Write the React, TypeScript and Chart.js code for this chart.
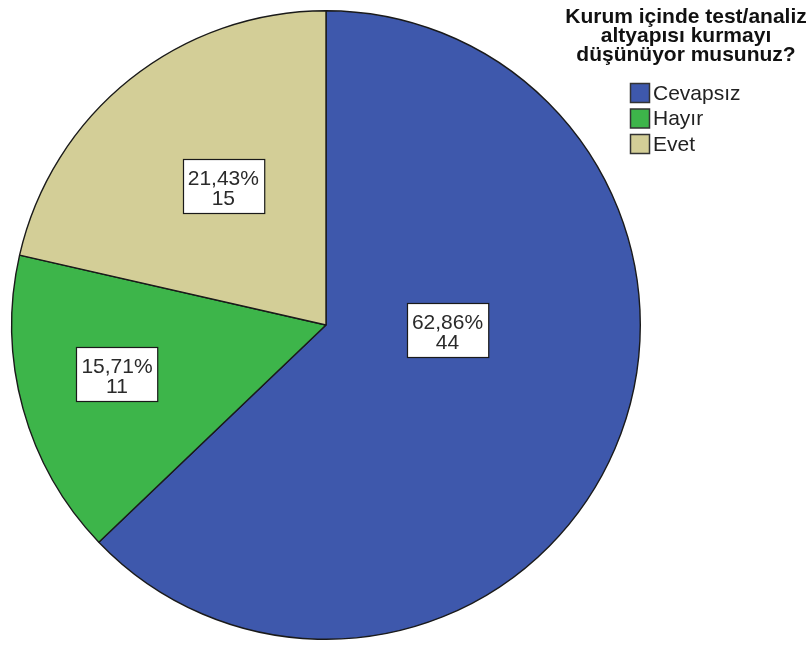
import React, { useEffect, useRef } from "react";
import { Chart, registerables } from "chart.js";

Chart.register(...registerables);

const categories = ["Cevapsız", "Hayır", "Evet"];
const counts = [44, 11, 15];
const colors = ["#3e58ac", "#3db54a", "#d3ce97"];
const titleLines = ["Kurum içinde test/analiz", "altyapısı kurmayı", "düşünüyor musunuz?"];
// label anchor: [radius fraction, angle in degrees clockwise from top]
const labelAnchors: [number, number][] = [
  [0.387, 92.3],
  [0.683, 256.8],
  [0.549, 323.5],
];

const FONT = "'Liberation Sans', Arial, sans-serif";

const overlayPlugin = {
  id: "overlay",
  afterDatasetsDraw(chart: any) {
    const ctx = chart.ctx as CanvasRenderingContext2D;
    const meta = chart.getDatasetMeta(0);
    const data = chart.data.datasets[0].data as number[];
    const total = data.reduce((a, b) => a + b, 0);
    ctx.save();
    meta.data.forEach((arc: any, i: number) => {
      const [frac, deg] = labelAnchors[i];
      const a = (deg * Math.PI) / 180;
      const cx = arc.x + Math.sin(a) * arc.outerRadius * frac;
      const cy = arc.y - Math.cos(a) * arc.outerRadius * frac;
      const pct = ((data[i] / total) * 100).toFixed(2).replace(".", ",") + "%";
      const cnt = String(data[i]);
      ctx.font = `21px ${FONT}`;
      const w = Math.max(ctx.measureText(pct).width, ctx.measureText(cnt).width) + 10;
      const h = 54;
      const bx = Math.round(cx - w / 2) + 0.5;
      const by = Math.round(cy - h / 2) + 0.5;
      ctx.fillStyle = "#ffffff";
      ctx.fillRect(bx, by, w, h);
      ctx.strokeStyle = "#1a1a1a";
      ctx.lineWidth = 1.2;
      ctx.strokeRect(bx, by, w, h);
      ctx.fillStyle = "#2a2a2a";
      ctx.textAlign = "center";
      ctx.textBaseline = "alphabetic";
      ctx.fillText(pct, cx, cy - 1);
      ctx.fillText(cnt, cx, cy + 19);
    });

    // legend title
    ctx.fillStyle = "#111111";
    ctx.textAlign = "center";
    ctx.font = `bold 21px ${FONT}`;
    titleLines.forEach((t, i) => {
      ctx.fillText(t, 686, 23 + i * 19);
    });
    // legend items
    ctx.textAlign = "left";
    ctx.textBaseline = "middle";
    ctx.font = `21px ${FONT}`;
    chart.data.labels.forEach((lab: string, i: number) => {
      const y = 83 + i * 25.5;
      ctx.fillStyle = colors[i];
      ctx.fillRect(630.5, y + 0.5, 19, 19);
      ctx.strokeStyle = "#333333";
      ctx.lineWidth = 1.5;
      ctx.strokeRect(630.5, y + 0.5, 19, 19);
      ctx.fillStyle = "#222222";
      ctx.fillText(lab, 653, y + 11);
    });
    ctx.restore();
  },
};

export default function App() {
  const ref = useRef<HTMLCanvasElement>(null);
  useEffect(() => {
    if (!ref.current) return;
    const chart = new Chart(ref.current, {
      type: "pie",
      data: {
        labels: categories,
        datasets: [
          {
            data: counts,
            backgroundColor: colors,
            borderColor: "#1a1a1a",
            borderWidth: 1.4,
          },
        ],
      },
      options: {
        responsive: false,
        animation: false,
        layout: { padding: { left: 11, top: 10, right: 170, bottom: 5 } },
        plugins: {
          legend: { display: false },
          tooltip: { enabled: false },
          title: { display: false },
        },
      },
      plugins: [overlayPlugin],
    });
    return () => chart.destroy();
  }, []);
  return (
    <div style={{ position: "absolute", left: 0, top: 0, width: 811, height: 645, background: "#fff" }}>
      <canvas ref={ref} width={811} height={645} style={{ display: "block" }} />
    </div>
  );
}
